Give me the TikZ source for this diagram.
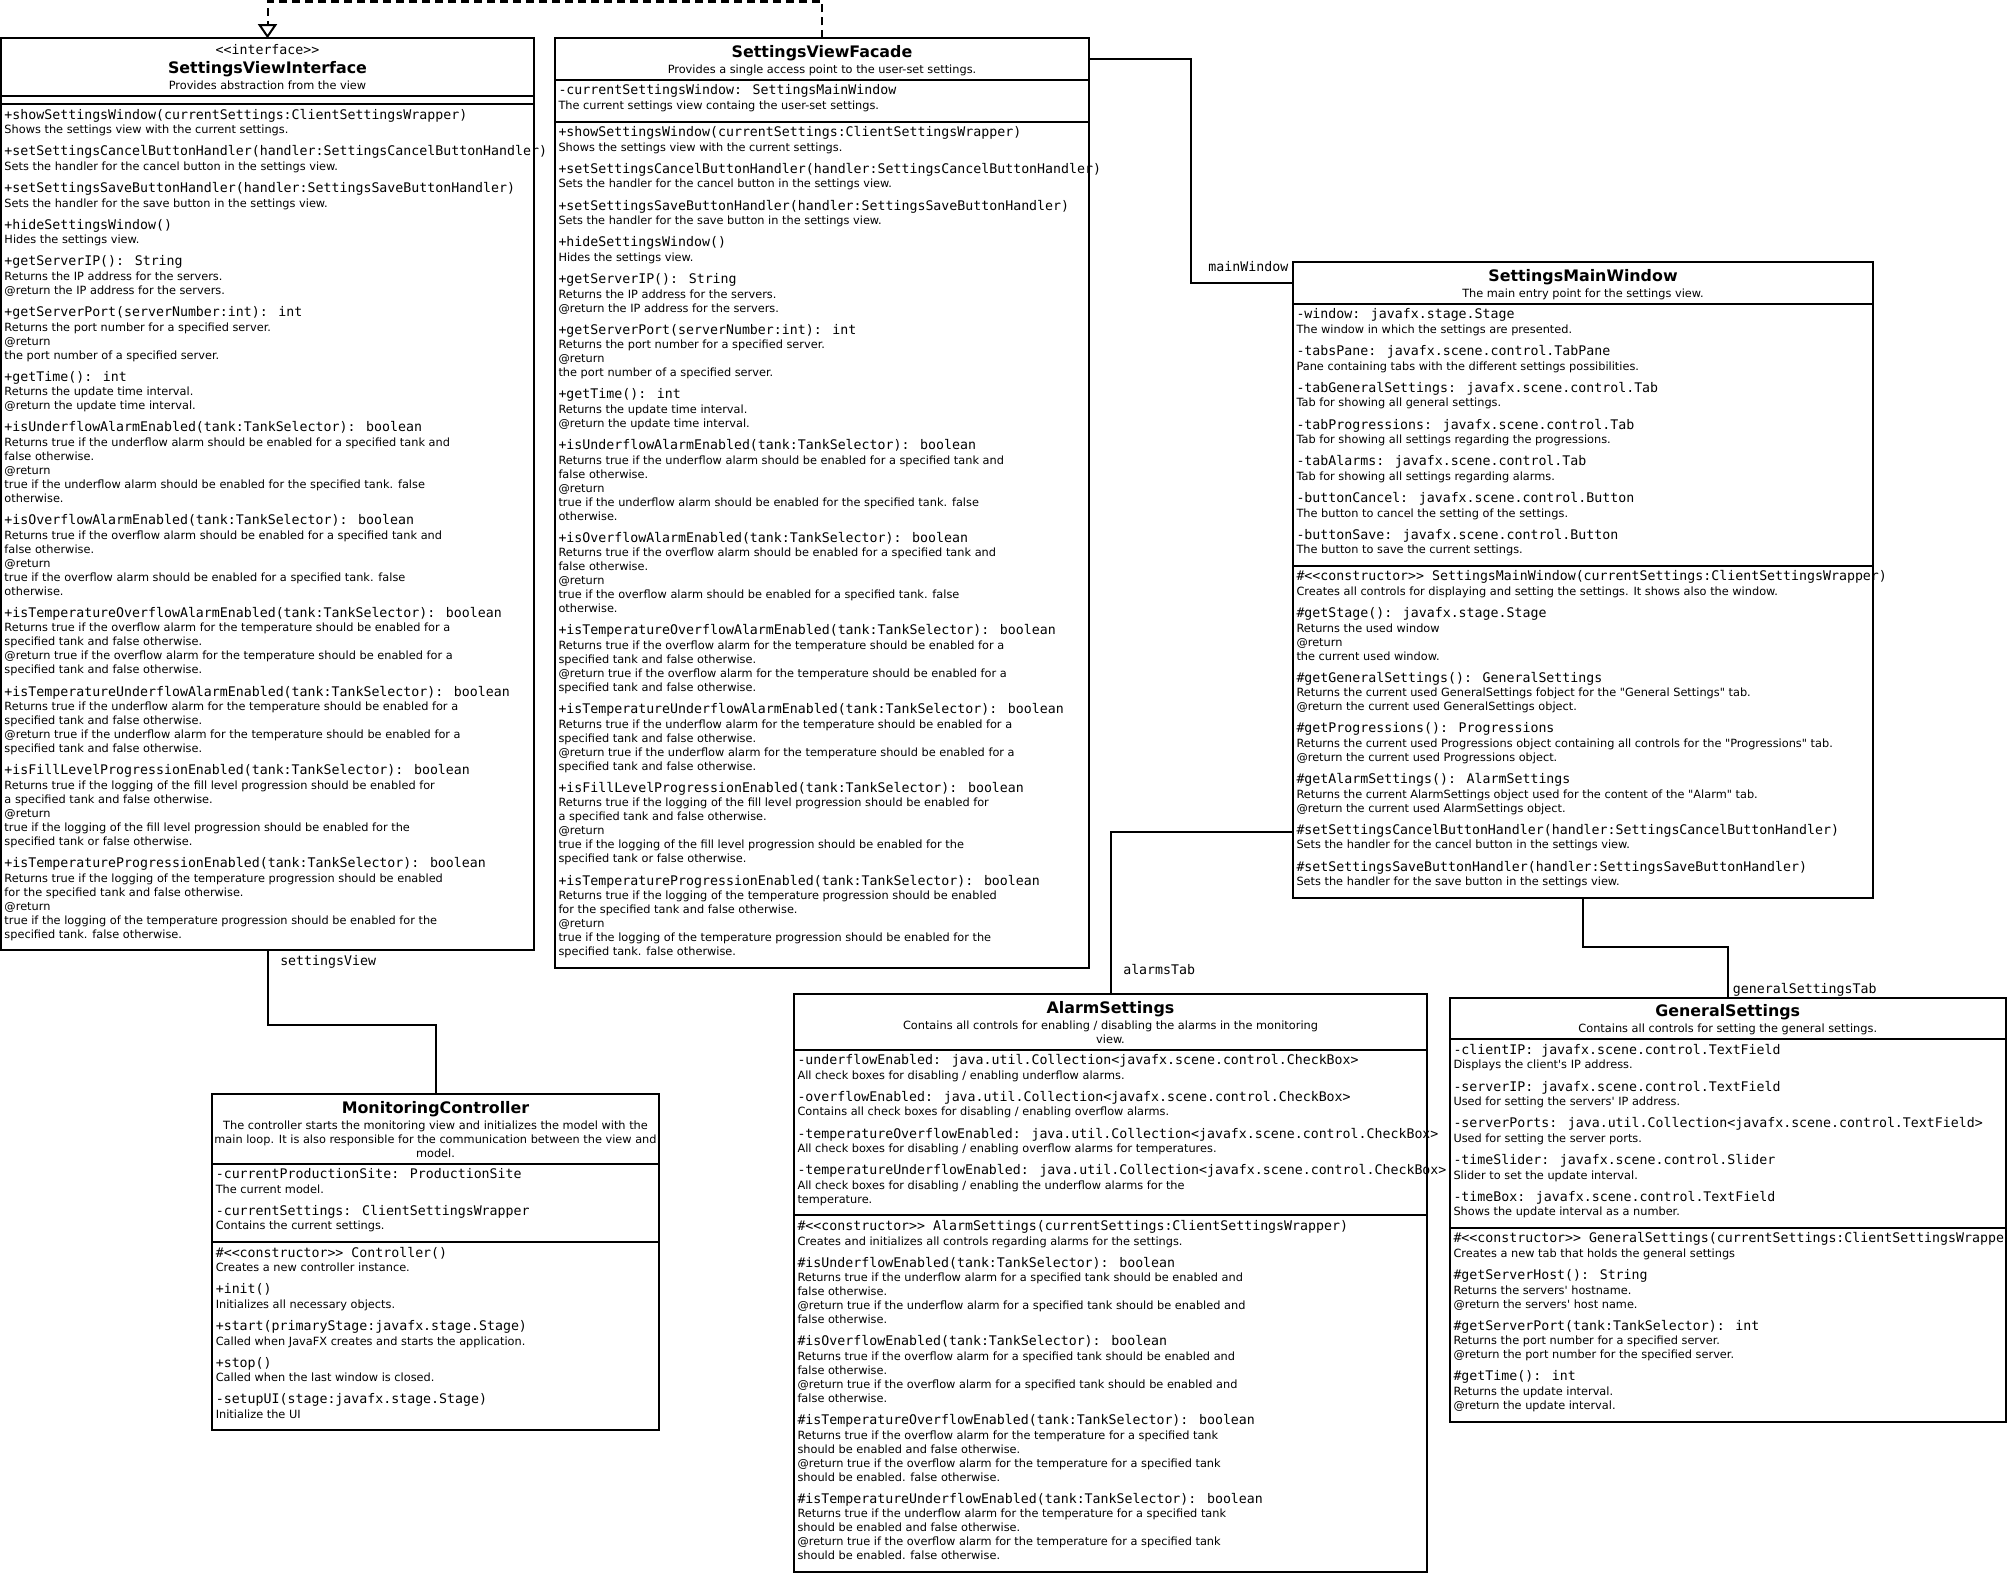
\documentclass[tikz,border=0pt]{standalone}
\usepackage{fontspec}
\usetikzlibrary{positioning,arrows.meta}
\newfontfamily\umlsans{DejaVu Sans}
\newfontfamily\umlmono{DejaVu Sans Mono}
\newdimen\upx \upx=0.75pt
\newdimen\umlsigskip
\newdimen\umldscskip
\newcommand\dscfont{\umlsans\fontsize{8.5pt}{10pt}\selectfont}
\newcommand\sigfont{\umlmono\fontsize{9.94pt}{12pt}\selectfont}
\newcommand\ttlfont{\umlsans\bfseries\fontsize{11.9pt}{14pt}\selectfont}
\newcommand\sig[1]{\vskip\umlsigskip\relax\hbox to\hsize{\hskip3.5\upx\relax\smash{\sigfont #1}\hss}%
  \umldscskip=14.6\upx\relax\umlsigskip=22.1\upx\relax}
\newcommand\dsc[1]{\vskip\umldscskip\relax\hbox to\hsize{\hskip3.5\upx\relax\smash{\dscfont #1}\hss}%
  \umldscskip=14\upx\relax}
\newcommand\hdline[2]{\vskip#1\upx\relax\hbox to\hsize{\hss\smash{#2}\hss}}
\newcommand\classhead[2]{\vbox{\hsize=#1\upx\relax\offinterlineskip #2\vskip6.5\upx\relax}}
\newcommand\classmembers[2]{\vbox{\hsize=#1\upx\relax\offinterlineskip\umlsigskip=15.1\upx\relax #2\vskip12\upx\relax}}
\newcommand\emptymembers[2]{\vbox{\hsize=#1\upx\relax\offinterlineskip\hbox to\hsize{}\vskip#2\upx\relax}}
\newcommand\viewops{%
  \sig{+showSettingsWindow(currentSettings:ClientSettingsWrapper)}
  \dsc{Shows the settings view with the current settings.}
  \sig{+setSettingsCancelButtonHandler(handler:SettingsCancelButtonHandler)}
  \dsc{Sets the handler for the cancel button in the settings view.}
  \sig{+setSettingsSaveButtonHandler(handler:SettingsSaveButtonHandler)}
  \dsc{Sets the handler for the save button in the settings view.}
  \sig{+hideSettingsWindow()}
  \dsc{Hides the settings view.}
  \sig{+getServerIP(): String}
  \dsc{Returns the IP address for the servers.}
  \dsc{@return the IP address for the servers.}
  \sig{+getServerPort(serverNumber:int): int}
  \dsc{Returns the port number for a specified server.}
  \dsc{@return}
  \dsc{the port number of a specified server.}
  \sig{+getTime(): int}
  \dsc{Returns the update time interval.}
  \dsc{@return the update time interval.}
  \sig{+isUnderflowAlarmEnabled(tank:TankSelector): boolean}
  \dsc{Returns true if the underflow alarm should be enabled for a specified tank and}
  \dsc{false otherwise.}
  \dsc{@return}
  \dsc{true if the underflow alarm should be enabled for the specified tank. false}
  \dsc{otherwise.}
  \sig{+isOverflowAlarmEnabled(tank:TankSelector): boolean}
  \dsc{Returns true if the overflow alarm should be enabled for a specified tank and}
  \dsc{false otherwise.}
  \dsc{@return}
  \dsc{true if the overflow alarm should be enabled for a specified tank. false}
  \dsc{otherwise.}
  \sig{+isTemperatureOverflowAlarmEnabled(tank:TankSelector): boolean}
  \dsc{Returns true if the overflow alarm for the temperature should be enabled for a}
  \dsc{specified tank and false otherwise.}
  \dsc{@return true if the overflow alarm for the temperature should be enabled for a}
  \dsc{specified tank and false otherwise.}
  \sig{+isTemperatureUnderflowAlarmEnabled(tank:TankSelector): boolean}
  \dsc{Returns true if the underflow alarm for the temperature should be enabled for a}
  \dsc{specified tank and false otherwise.}
  \dsc{@return true if the underflow alarm for the temperature should be enabled for a}
  \dsc{specified tank and false otherwise.}
  \sig{+isFillLevelProgressionEnabled(tank:TankSelector): boolean}
  \dsc{Returns true if the logging of the fill level progression should be enabled for}
  \dsc{a specified tank and false otherwise.}
  \dsc{@return}
  \dsc{true if the logging of the fill level progression should be enabled for the}
  \dsc{specified tank or false otherwise.}
  \sig{+isTemperatureProgressionEnabled(tank:TankSelector): boolean}
  \dsc{Returns true if the logging of the temperature progression should be enabled}
  \dsc{for the specified tank and false otherwise.}
  \dsc{@return}
  \dsc{true if the logging of the temperature progression should be enabled for the}
  \dsc{specified tank. false otherwise.}}
\tikzset{
  assoc/.style={line width=1.5pt},
  realizes/.style={line width=1.5pt,dash pattern=on 6pt off 3.75pt,-{Triangle[open,length=10.7pt,width=14.3pt]}},
  rolelabel/.style={inner sep=0pt,font=\sigfont}
}
\begin{document}
\begin{tikzpicture}[x=0.75pt,y=-0.75pt]

  \useasboundingbox[fill=white] (0,0) rectangle (2007,1574);

  \begin{scope}[every node/.style={draw,line width=1.5pt,inner sep=0pt,outer sep=0pt}]
    \node[anchor=north west] (ifcHead) at (1,38.3) {\classhead{533}{%
      \hdline{16.5}{\sigfont <<interface>>}%
      \hdline{18.7}{\ttlfont SettingsViewInterface}%
      \hdline{15.9}{\dscfont Provides abstraction from the view}}};
    \node[below=0pt of ifcHead] (ifcAttr) {\emptymembers{533}{8}};
    \node[below=0pt of ifcAttr] (ifcOps) {\classmembers{533}{\viewops}};

    \node[anchor=north west] (facHead) at (555,38.3) {\classhead{534}{%
      \hdline{19.1}{\ttlfont SettingsViewFacade}%
      \hdline{15.9}{\dscfont Provides a single access point to the user-set settings.}}};
    \node[below=0pt of facHead] (facAttr) {\classmembers{534}{%
      \sig{-currentSettingsWindow: SettingsMainWindow}
      \dsc{The current settings view containg the user-set settings.}}};
    \node[below=0pt of facAttr] (facOps) {\classmembers{534}{\viewops}};

    \node[anchor=north west] (smwHead) at (1293,262.3) {\classhead{580}{%
      \hdline{19.1}{\ttlfont SettingsMainWindow}%
      \hdline{15.9}{\dscfont The main entry point for the settings view.}}};
    \node[below=0pt of smwHead] (smwAttr) {\classmembers{580}{%
      \sig{-window: javafx.stage.Stage}
      \dsc{The window in which the settings are presented.}
      \sig{-tabsPane: javafx.scene.control.TabPane}
      \dsc{Pane containing tabs with the different settings possibilities.}
      \sig{-tabGeneralSettings: javafx.scene.control.Tab}
      \dsc{Tab for showing all general settings.}
      \sig{-tabProgressions: javafx.scene.control.Tab}
      \dsc{Tab for showing all settings regarding the progressions.}
      \sig{-tabAlarms: javafx.scene.control.Tab}
      \dsc{Tab for showing all settings regarding alarms.}
      \sig{-buttonCancel: javafx.scene.control.Button}
      \dsc{The button to cancel the setting of the settings.}
      \sig{-buttonSave: javafx.scene.control.Button}
      \dsc{The button to save the current settings.}}};
    \node[below=0pt of smwAttr] (smwOps) {\classmembers{580}{%
      \sig{\#<<constructor>> SettingsMainWindow(currentSettings:ClientSettingsWrapper)}
      \dsc{Creates all controls for displaying and setting the settings. It shows also the window.}
      \sig{\#getStage(): javafx.stage.Stage}
      \dsc{Returns the used window}
      \dsc{@return}
      \dsc{the current used window.}
      \sig{\#getGeneralSettings(): GeneralSettings}
      \dsc{Returns the current used GeneralSettings fobject for the "General Settings" tab.}
      \dsc{@return the current used GeneralSettings object.}
      \sig{\#getProgressions(): Progressions}
      \dsc{Returns the current used Progressions object containing all controls for the "Progressions" tab.}
      \dsc{@return the current used Progressions object.}
      \sig{\#getAlarmSettings(): AlarmSettings}
      \dsc{Returns the current AlarmSettings object used for the content of the "Alarm" tab.}
      \dsc{@return the current used AlarmSettings object.}
      \sig{\#setSettingsCancelButtonHandler(handler:SettingsCancelButtonHandler)}
      \dsc{Sets the handler for the cancel button in the settings view.}
      \sig{\#setSettingsSaveButtonHandler(handler:SettingsSaveButtonHandler)}
      \dsc{Sets the handler for the save button in the settings view.}}};

    \node[anchor=north west] (mcHead) at (212.3,1094) {\classhead{446.4}{%
      \hdline{19.1}{\ttlfont MonitoringController}%
      \hdline{15.9}{\dscfont The controller starts the monitoring view and initializes the model with the}%
      \hdline{14}{\dscfont main loop. It is also responsible for the communication between the view and}%
      \hdline{14}{\dscfont model.}}};
    \node[below=0pt of mcHead] (mcAttr) {\classmembers{446.4}{%
      \sig{-currentProductionSite: ProductionSite}
      \dsc{The current model.}
      \sig{-currentSettings: ClientSettingsWrapper}
      \dsc{Contains the current settings.}}};
    \node[below=0pt of mcAttr] (mcOps) {\classmembers{446.4}{%
      \sig{\#<<constructor>> Controller()}
      \dsc{Creates a new controller instance.}
      \sig{+init()}
      \dsc{Initializes all necessary objects.}
      \sig{+start(primaryStage:javafx.stage.Stage)}
      \dsc{Called when JavaFX creates and starts the application.}
      \sig{+stop()}
      \dsc{Called when the last window is closed.}
      \sig{-setupUI(stage:javafx.stage.Stage)}
      \dsc{Initialize the UI}}};

    \node[anchor=north west] (alsHead) at (794,994) {\classhead{633}{%
      \hdline{19.1}{\ttlfont AlarmSettings}%
      \hdline{15.9}{\dscfont Contains all controls for enabling / disabling the alarms in the monitoring}%
      \hdline{14}{\dscfont view.}}};
    \node[below=0pt of alsHead] (alsAttr) {\classmembers{633}{%
      \sig{-underflowEnabled: java.util.Collection<javafx.scene.control.CheckBox>}
      \dsc{All check boxes for disabling / enabling underflow alarms.}
      \sig{-overflowEnabled: java.util.Collection<javafx.scene.control.CheckBox>}
      \dsc{Contains all check boxes for disabling / enabling overflow alarms.}
      \sig{-temperatureOverflowEnabled: java.util.Collection<javafx.scene.control.CheckBox>}
      \dsc{All check boxes for disabling / enabling overflow alarms for temperatures.}
      \sig{-temperatureUnderflowEnabled: java.util.Collection<javafx.scene.control.CheckBox>}
      \dsc{All check boxes for disabling / enabling the underflow alarms for the}
      \dsc{temperature.}}};
    \node[below=0pt of alsAttr] (alsOps) {\classmembers{633}{%
      \sig{\#<<constructor>> AlarmSettings(currentSettings:ClientSettingsWrapper)}
      \dsc{Creates and initializes all controls regarding alarms for the settings.}
      \sig{\#isUnderflowEnabled(tank:TankSelector): boolean}
      \dsc{Returns true if the underflow alarm for a specified tank should be enabled and}
      \dsc{false otherwise.}
      \dsc{@return true if the underflow alarm for a specified tank should be enabled and}
      \dsc{false otherwise.}
      \sig{\#isOverflowEnabled(tank:TankSelector): boolean}
      \dsc{Returns true if the overflow alarm for a specified tank should be enabled and}
      \dsc{false otherwise.}
      \dsc{@return true if the overflow alarm for a specified tank should be enabled and}
      \dsc{false otherwise.}
      \sig{\#isTemperatureOverflowEnabled(tank:TankSelector): boolean}
      \dsc{Returns true if the overflow alarm for the temperature for a specified tank}
      \dsc{should be enabled and false otherwise.}
      \dsc{@return true if the overflow alarm for the temperature for a specified tank}
      \dsc{should be enabled. false otherwise.}
      \sig{\#isTemperatureUnderflowEnabled(tank:TankSelector): boolean}
      \dsc{Returns true if the underflow alarm for the temperature for a specified tank}
      \dsc{should be enabled and false otherwise.}
      \dsc{@return true if the overflow alarm for the temperature for a specified tank}
      \dsc{should be enabled. false otherwise.}}};

    \node[anchor=north west] (gsHead) at (1450,997.7) {\classhead{555.5}{%
      \hdline{19.1}{\ttlfont GeneralSettings}%
      \hdline{15.9}{\dscfont Contains all controls for setting the general settings.}}};
    \node[below=0pt of gsHead] (gsAttr) {\classmembers{555.5}{%
      \sig{-clientIP: javafx.scene.control.TextField}
      \dsc{Displays the client's IP address.}
      \sig{-serverIP: javafx.scene.control.TextField}
      \dsc{Used for setting the servers' IP address.}
      \sig{-serverPorts: java.util.Collection<javafx.scene.control.TextField>}
      \dsc{Used for setting the server ports.}
      \sig{-timeSlider: javafx.scene.control.Slider}
      \dsc{Slider to set the update interval.}
      \sig{-timeBox: javafx.scene.control.TextField}
      \dsc{Shows the update interval as a number.}}};
    \node[below=0pt of gsAttr] (gsOps) {\classmembers{555.5}{%
      \sig{\#<<constructor>> GeneralSettings(currentSettings:ClientSettingsWrapper)}
      \dsc{Creates a new tab that holds the general settings}
      \sig{\#getServerHost(): String}
      \dsc{Returns the servers' hostname.}
      \dsc{@return the servers' host name.}
      \sig{\#getServerPort(tank:TankSelector): int}
      \dsc{Returns the port number for a specified server.}
      \dsc{@return the port number for the specified server.}
      \sig{\#getTime(): int}
      \dsc{Returns the update interval.}
      \dsc{@return the update interval.}}};
  \end{scope}

  \draw[realizes] (facHead.north) -- ++(0,-36.8) -| (ifcHead.north);
  \draw[assoc] (facHead.east) -- ++(101.6,0) |- (smwHead.west);
  \draw[assoc] (ifcOps.south) -- ++(0,75) -| (mcHead.north);
  \draw[assoc] (smwOps.west |- 0,831.7) -| (alsHead.north);
  \draw[assoc] (smwOps.south) -- ++(0,49.7) -| (gsHead.north);

  \node[rolelabel,anchor=base east] (mainWindowLbl) at (1288.5,271.5) {mainWindow};
  \node[rolelabel,anchor=base west] (settingsViewLbl) at (280,965.5) {settingsView};
  \node[rolelabel,anchor=base west] (alarmsTabLbl) at (1123,974.8) {alarmsTab};
  \node[rolelabel,anchor=base west] (generalSettingsTabLbl) at (1732.7,993.1) {generalSettingsTab};

\end{tikzpicture}
\end{document}
